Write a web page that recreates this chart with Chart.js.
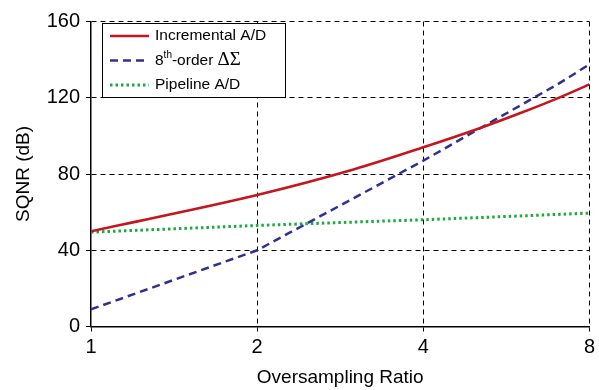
<!DOCTYPE html>
<html>
<head>
<meta charset="utf-8">
<script src="https://cdn.jsdelivr.net/npm/chart.js@4"></script>
<style>
  html, body { margin: 0; padding: 0; background: #fff; }
  #wrap { width: 599px; height: 390px; }
</style>
</head>
<body>
<div id="wrap"><canvas id="chart" width="599" height="390"></canvas></div>
<script>
// data
const osr = [1, 2, 3, 4, 5, 6, 7, 8];
const incremental = [50, 69, 82.5, 94, 103.5, 112, 119.7, 127];
const deltaSigma = [9, 40, 67.5, 87, 103, 116, 127, 137.5];
const pipeline = [49.5, 53, 54.8, 56, 57.1, 58, 58.8, 59.5];
const xTicks = [1, 2, 4, 8];
const yTicks = [0, 40, 80, 120, 160];

const FONT = "'Liberation Sans', Arial, Helvetica, sans-serif";

const toPoints = arr => arr.map((v, i) => ({x: osr[i], y: v}));

// no dashed grid line on top of the solid axes
const gridColor = ctx => (ctx.index === 0 ? 'rgba(0,0,0,0)' : '#000');

// legend drawn by hand so the dash styles and the superscript show
const boxLegend = {
    id: 'boxLegend',
    afterDraw(chart) {
        const ctx = chart.ctx;
        ctx.save();
        ctx.fillStyle = '#fff';
        ctx.fillRect(102, 23, 183, 74);
        ctx.strokeStyle = '#000';
        ctx.lineWidth = 1;
        ctx.strokeRect(102.5, 23.5, 183, 74);

        chart.data.datasets.forEach((ds, i) => {
            const y = 36 + i * 24.5;
            ctx.strokeStyle = ds.borderColor;
            ctx.lineWidth = ds.borderWidth;
            ctx.setLineDash(ds.borderDash || []);
            ctx.beginPath();
            ctx.moveTo(110, y);
            ctx.lineTo(149, y);
            ctx.stroke();
            ctx.setLineDash([]);

            ctx.fillStyle = '#000';
            ctx.textBaseline = 'middle';
            let x = 155;
            ds.legendParts.forEach(p => {
                let dy = 0;
                if (p.sup) {
                    ctx.font = '10px ' + FONT;
                    dy = -5;
                } else if (p.serif) {
                    ctx.font = "19px 'Liberation Serif', 'Times New Roman', serif";
                } else {
                    ctx.font = '15.5px ' + FONT;
                }
                ctx.fillText(p.t, x, y + dy);
                x += ctx.measureText(p.t).width;
            });
        });
        ctx.restore();
    }
};

const data = {
    datasets: [{
        label: 'Incremental A/D',
        legendParts: [{t: 'Incremental A/D'}],
        data: toPoints(incremental),
        borderColor: '#c4161c',
        borderWidth: 2.5,
        pointRadius: 0,
        cubicInterpolationMode: 'monotone'
    },
    {
        label: '8th-order ΔΣ',
        legendParts: [{t: '8'}, {t: 'th', sup: true}, {t: '-order '}, {t: 'ΔΣ', serif: true}],
        data: toPoints(deltaSigma),
        borderColor: '#2e3192',
        borderWidth: 2.5,
        borderDash: [8, 5],
        pointRadius: 0,
        tension: 0
    },
    {
        label: 'Pipeline A/D',
        legendParts: [{t: 'Pipeline A/D'}],
        data: toPoints(pipeline),
        borderColor: '#1aab3c',
        borderWidth: 3,
        borderDash: [2.5, 3],
        pointRadius: 0,
        tension: 0
    }]
};

const config = {
    type: 'line',
    data,
    options: {
        responsive: false,
        animation: false,
        layout: { padding: { top: 21.5, right: 6, left: 0, bottom: 0 } },
        plugins: {
            legend: { display: false },
            tooltip: { enabled: false }
        },
        scales: {
            x: {
                type: 'logarithmic',
                min: 1,
                max: 8,
                afterBuildTicks: s => { s.ticks = xTicks.map(v => ({value: v})); },
                afterFit: s => { s.height = 63.5; },
                ticks: {
                    callback: v => String(v),
                    color: '#000',
                    font: { family: FONT, size: 20 },
                    padding: 4,
                    maxRotation: 0
                },
                grid: { color: gridColor, lineWidth: 1, tickLength: 5, tickColor: '#000' },
                border: { color: '#000', width: 1.5, dash: [5, 4] },
                title: {
                    display: true,
                    text: 'Oversampling Ratio',
                    color: '#000',
                    font: { family: FONT, size: 19 },
                    padding: { bottom: 1 }
                }
            },
            y: {
                min: 0,
                max: 160,
                afterBuildTicks: s => { s.ticks = yTicks.map(v => ({value: v})); },
                afterFit: s => { s.width = 91; },
                ticks: {
                    color: '#000',
                    font: { family: FONT, size: 20 },
                    padding: 6
                },
                grid: { color: gridColor, lineWidth: 1, tickLength: 5, tickColor: '#000' },
                border: { color: '#000', width: 1.5, dash: [5, 4] },
                title: {
                    display: true,
                    text: 'SQNR (dB)',
                    color: '#000',
                    font: { family: FONT, size: 19 },
                    padding: { top: 12 }
                }
            }
        }
    },
    plugins: [boxLegend]
};

const myChart = new Chart(document.getElementById('chart'), config);
</script>
</body>
</html>
